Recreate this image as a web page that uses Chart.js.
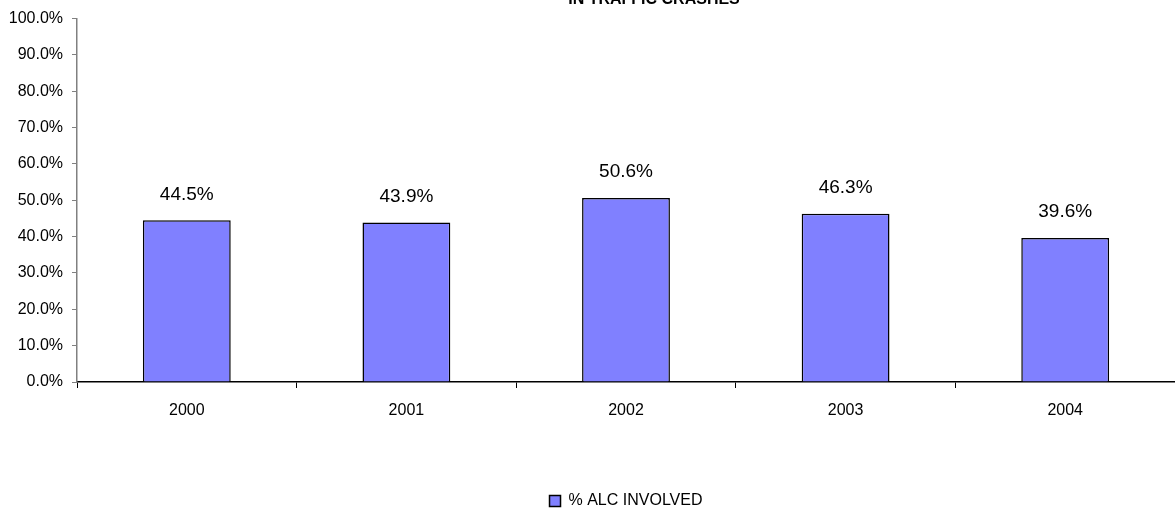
<!DOCTYPE html>
<html>
<head>
<meta charset="utf-8">
<script src="https://cdn.jsdelivr.net/npm/chart.js@4"></script>
<style>
  html, body { margin: 0; padding: 0; background: #fff; }
  #wrap { width: 1175px; height: 515px; position: relative; }
</style>
</head>
<body>
<div id="wrap"><canvas id="chart"></canvas></div>
<script>
const years = ["2000", "2001", "2002", "2003", "2004"];
const alcInvolved = [44.5, 43.9, 50.6, 46.3, 39.6];
const seriesName = "% ALC INVOLVED";
const chartTitle = "IN TRAFFIC CRASHES";

const FONT = "'Liberation Sans', Arial, sans-serif";

// title is mostly cut off at the top edge in the original
const cutTitle = {
  id: "cutTitle",
  afterDraw(chart) {
    const ctx = chart.ctx;
    ctx.save();
    ctx.font = "bold 16px " + FONT;
    ctx.fillStyle = "#000";
    ctx.textAlign = "center";
    ctx.textBaseline = "alphabetic";
    ctx.fillText(chartTitle, 654, 4);
    ctx.restore();
  }
};

const valueLabels = {
  id: "valueLabels",
  afterDatasetsDraw(chart) {
    const ctx = chart.ctx;
    const meta = chart.getDatasetMeta(0);
    ctx.save();
    ctx.font = "19px " + FONT;
    ctx.fillStyle = "#000";
    ctx.textAlign = "center";
    ctx.textBaseline = "middle";
    meta.data.forEach((bar, i) => {
      ctx.fillText(alcInvolved[i].toFixed(1) + "%", bar.x, bar.y - 26);
    });
    ctx.restore();
  }
};

new Chart(document.getElementById("chart"), {
  type: "bar",
  data: {
    labels: years,
    datasets: [{
      label: seriesName,
      data: alcInvolved,
      backgroundColor: "#8080FF",
      borderColor: "#000",
      borderWidth: 1.5,
      barPercentage: 0.4,
      categoryPercentage: 1
    }]
  },
  options: {
    responsive: true,
    maintainAspectRatio: false,
    animation: false,
    layout: { padding: { top: 18, left: 0, right: 0, bottom: -4 } },
    plugins: {
      title: { display: false },
      tooltip: { enabled: false },
      legend: {
        position: "bottom",
        fullSize: false,
        labels: {
          font: { family: FONT, size: 16 },
          color: "#000",
          boxWidth: 11,
          boxHeight: 11,
          padding: 9
        }
      }
    },
    scales: {
      x: {
        grid: { display: true, drawOnChartArea: false, tickLength: 6, color: "#000", offset: true },
        border: { color: "#000", width: 1.5 },
        ticks: { font: { family: FONT, size: 16 }, color: "#000", padding: 13 },
        afterFit(scale) { scale.height = 102; }
      },
      y: {
        min: 0,
        max: 100,
        grid: { display: true, drawOnChartArea: false, tickLength: 5, color: "#808080" },
        border: { color: "#808080", width: 1.5 },
        ticks: {
          stepSize: 10,
          font: { family: FONT, size: 16 },
          color: "#000",
          padding: 9,
          callback: v => v.toFixed(1) + "%"
        },
        afterFit(scale) { scale.width = 77; }
      }
    }
  },
  plugins: [cutTitle, valueLabels]
});
</script>
</body>
</html>
